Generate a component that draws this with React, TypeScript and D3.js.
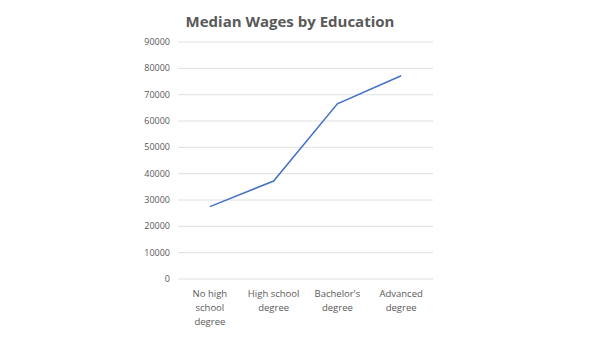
import React from "react";
import * as d3 from "d3";

const categories = ["No high school degree", "High school degree", "Bachelor's degree", "Advanced degree"];
const categoryLines = [["No high", "school", "degree"], ["High school", "degree"], ["Bachelor's", "degree"], ["Advanced", "degree"]];
const wages = [27500, 37200, 66500, 77200];
const yTicks = [0, 10000, 20000, 30000, 40000, 50000, 60000, 70000, 80000, 90000];
const title = "Median Wages by Education";

export default function App() {
  const W = 600, H = 338;
  const left = 178, right = 433, top = 42, bottom = 279;
  const x = d3.scaleBand<string>().domain(categories).range([left, right]);
  const y = d3.scaleLinear().domain([0, 90000]).range([bottom, top]);
  const line = d3.line<number>()
    .x((_, i) => (x(categories[i]) as number) + x.bandwidth() / 2)
    .y((d) => y(d));
  const font = "'Open Sans', 'Noto Sans', sans-serif";
  return (
    <svg width={W} height={H} style={{ position: "absolute", left: 0, top: 0, background: "#fff" }}>
      <rect width={W} height={H} fill="#fff" />
      <text x={290} y={27} textAnchor="middle" fontFamily={font} fontWeight="bold" fontSize={15} fill="#595959">{title}</text>
      {yTicks.map((t) => (
        <g key={t}>
          <line x1={left} x2={right} y1={y(t)} y2={y(t)} stroke="#e0e0e0" strokeWidth={1} />
          <text x={170} y={y(t)} dy="0.35em" textAnchor="end" fontFamily={font} fontSize={9} fill="#595959">{t}</text>
        </g>
      ))}
      <path d={line(wages) || ""} fill="none" stroke="#4472C4" strokeWidth={1.5} />
      {categoryLines.map((lines, i) => (
        <text key={i} textAnchor="middle" fontFamily={font} fontSize={9.5} fill="#595959">
          {lines.map((l, j) => (
            <tspan key={j} x={(x(categories[i]) as number) + x.bandwidth() / 2} y={297 + j * 14}>{l}</tspan>
          ))}
        </text>
      ))}
    </svg>
  );
}
